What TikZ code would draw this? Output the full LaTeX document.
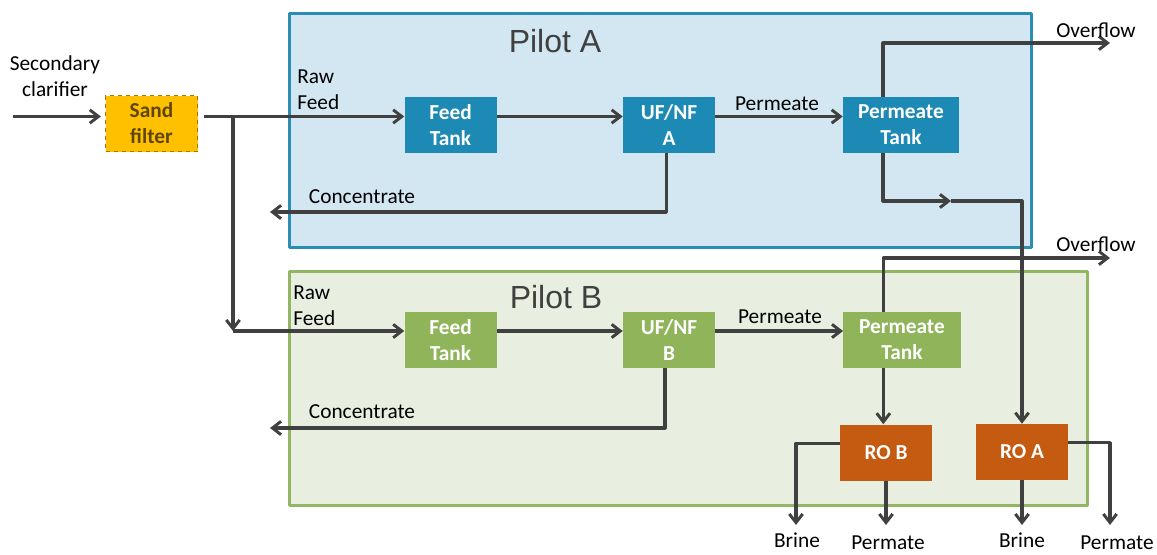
\documentclass[tikz,border=0pt]{standalone}
\usepackage{fontspec}
\setmainfont{Carlito}
\newfontfamily\titlefont{Liberation Sans}
\usetikzlibrary{arrows.meta}

\definecolor{flowgray}{HTML}{404040}
\definecolor{pilotAfill}{HTML}{D2E7F1}
\definecolor{pilotAedge}{HTML}{2C8DB4}
\definecolor{pilotBfill}{HTML}{E8EFE0}
\definecolor{pilotBedge}{HTML}{92B663}
\definecolor{unitblue}{HTML}{1D8AB5}
\definecolor{unitgreen}{HTML}{8FB45A}
\definecolor{unitorange}{HTML}{C55A11}
\definecolor{sandfill}{HTML}{FFC000}
\definecolor{sandedge}{HTML}{A07A00}
\definecolor{sandtext}{HTML}{5E4600}

\newcommand\lblfont{\fontsize{16}{19.5}\selectfont}

\begin{document}
\begin{tikzpicture}[x=0.75pt,y=-0.75pt,line join=round,
  pipe/.style={draw=flowgray,line width=2.4pt},
  flow/.style={pipe,-{Straight Barb[length=6.5pt,width=10pt,line width=2.2pt]}},
  unit/.style={rectangle,inner sep=0pt,align=center,text=white,
    font=\lblfont\bfseries,minimum width=69pt,minimum height=42pt},
  lbl/.style={inner sep=0pt,font=\lblfont,text=black},
  title/.style={inner sep=0pt,anchor=base,font=\titlefont\fontsize{24}{28}\selectfont,text=flowgray}]
\useasboundingbox (0,0) rectangle (1157,554);

% pilot frames
\draw[line width=2.25pt,draw=pilotAedge,fill=pilotAfill] (289,13) rectangle (1031,247);
\draw[line width=2.25pt,draw=pilotBedge,fill=pilotBfill] (289,271) rectangle (1087,505);
\node[title] (titA) at (555,52) {Pilot A};
\node[title] (titB) at (556,308) {Pilot B};

% units
\node[unit,text=sandtext,fill=sandfill,draw=sandedge,dashed,line width=1pt] (sand) at (151.5,123.5) {Sand\\filter};
\node[unit,fill=unitblue] (ftA) at (450.5,125) {Feed\\Tank};
\node[unit,fill=unitblue] (ufA) at (669,125) {UF/NF\\A};
\node[unit,fill=unitblue,minimum width=87pt] (ptA) at (901,125) {Permeate\\Tank};
\node[unit,fill=unitgreen] (ftB) at (450.5,340) {Feed\\Tank};
\node[unit,fill=unitgreen] (ufB) at (669,340) {UF/NF\\B};
\node[unit,fill=unitgreen,minimum width=88pt] (ptB) at (902,340) {Permeate\\Tank};
\node[unit,fill=unitorange] (roB) at (886,452.5) {RO B};
\node[unit,fill=unitorange] (roA) at (1022,452) {RO A};

% flow levels and free ends
\coordinate (lineA) at (0,116.5);
\coordinate (lineB) at (0,331);
\coordinate (src) at (13,116.5);
\coordinate (split) at (233,116.5);
\coordinate (concA) at (270,212);
\coordinate (concB) at (270,428);
\coordinate (ovA) at (1110,43);
\coordinate (ovB) at (1110,258);
\coordinate (midA) at (951,201);
\coordinate (brineB) at (796,525);
\coordinate (permA) at (1110,525);

% pilot A
\draw[flow] (src) -- ([xshift=-3pt]sand.west |- lineA);
\draw[flow] ([xshift=4pt]sand.east |- lineA) -- (ftA.west |- lineA);
\draw[flow] (ftA.east |- lineA) -- (ufA.west |- lineA);
\draw[flow] (ufA.east |- lineA) -- (ptA.west |- lineA);
\draw[flow] ([xshift=-2pt]ufA.south) |- (concA);
\draw[flow] ([xshift=-13.5pt]ptA.north) |- (ovA);
\draw[flow] ([xshift=-13.5pt]ptA.south) |- (midA);
\draw[flow] (midA) -| (roA.north);

% pilot B
\draw[flow] (split) -- (split |- lineB);
\draw[flow] (split |- lineB) -- (ftB.west |- lineB);
\draw[flow] (ftB.east |- lineB) -- (ufB.west |- lineB);
\draw[flow] (ufB.east |- lineB) -- (ptB.west |- lineB);
\draw[flow] ([xshift=-3pt]ufB.south) |- (concB);
\draw[flow] ([xshift=-14pt]ptB.north) |- (ovB);
\draw[flow] ([xshift=-14pt]ptB.south) -- ([xshift=-14pt]ptB.south |- roB.north);

% RO outlets
\draw[flow] ([yshift=7pt]roB.west) -| (brineB);
\draw[flow] (roB.south) -- (roB.south |- brineB);
\draw[flow] (roA.south) -- (roA.south |- brineB);
\draw[flow] ([yshift=7pt]roA.east) -| (permA);

% labels
\node[lbl,align=center] (secl) at (55,76) {Secondary\\clarifier};
\node[lbl,align=left,anchor=west] (rawA) at (297,90) {Raw\\Feed};
\node[lbl,align=left,anchor=west] (rawB) at (293,306) {Raw\\Feed};
\node[lbl,anchor=base] (permlA) at (777,110) {Permeate};
\node[lbl,anchor=base] (permlB) at (780,323) {Permeate};
\node[lbl,anchor=base] (conclA) at (362,203) {Concentrate};
\node[lbl,anchor=base] (conclB) at (362,418) {Concentrate};
\node[lbl,anchor=base] (ovlA) at (1096,37) {Overflow};
\node[lbl,anchor=base] (ovlB) at (1096,251) {Overflow};
\node[lbl,anchor=base] (brlB) at (797,547) {Brine};
\node[lbl,anchor=base] (pmlB) at (888,549) {Permate};
\node[lbl,anchor=base] (brlA) at (1022,547) {Brine};
\node[lbl,anchor=base] (pmlA) at (1117,549) {Permate};
\end{tikzpicture}
\end{document}
